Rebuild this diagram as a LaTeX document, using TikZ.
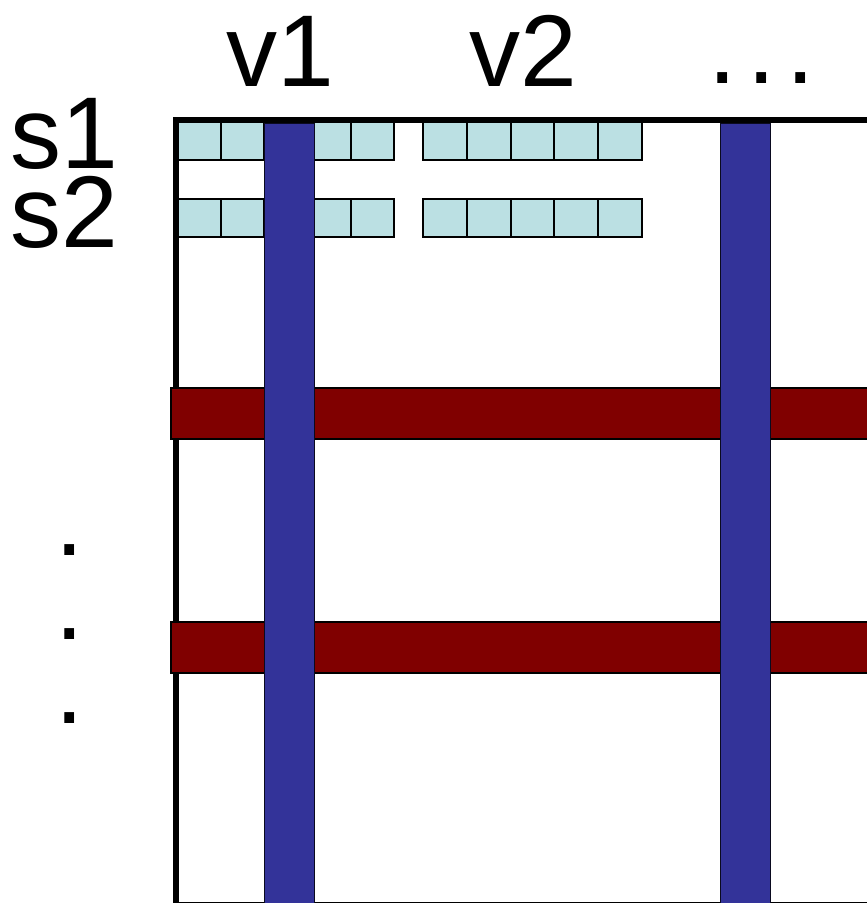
\documentclass[tikz,border=0pt]{standalone}
\usepackage{fontspec}
\setmainfont{Liberation Sans}
\usepackage{tikz}
\definecolor{cellcyan}{HTML}{BBE0E3}
\definecolor{colblue}{HTML}{333399}
\definecolor{rowred}{HTML}{800000}
\begin{document}
\begin{tikzpicture}[x=1pt, y=-1pt,
  cellbox/.style={draw=black, fill=cellcyan, line width=2pt},
  rowbar/.style={draw=black, fill=rowred, line width=2pt},
  colbar/.style={draw=black!80!colblue, fill=colblue, line width=1pt},
  lab/.style={font=\fontsize{102}{110}\selectfont, inner sep=0pt, text height=74pt, text depth=0pt},
  dot/.style={lab, text height=11pt}]
\useasboundingbox (0,0) rectangle (867,903);
% frame of the matrix
\draw[line width=6pt] (867,120) -- (175.5,120) -- (175.5,903);
\draw[line width=1pt] (176,902) -- (867,902);
% cells of s1 and s2
\foreach \y in {122,199} {
  \foreach \i in {0,...,4} \draw[cellbox] (178+43.2*\i,\y) rectangle +(43.2,38);
  \foreach \i in {0,...,4} \draw[cellbox] (423+43.8*\i,\y) rectangle +(43.8,38);
}
% rows and columns
\foreach \y in {388,622} \draw[rowbar] (171,\y) rectangle (868,\y+51);
\foreach \x in {264,720} \draw[colbar] (\x,123) rectangle (\x+50.5,904);
% labels
\node[lab, anchor=base] (v1) at (280,86) {v1};
\node[lab, anchor=base] (v2) at (523,86) {v2};
\node[lab, anchor=base west] (s1) at (10,168) {s1};
\node[lab, anchor=base west] (s2) at (10,247) {s2};
\foreach \x [count=\k] in {723,762,801} \node[dot, anchor=base] (hdot\k) at (\x,83) {.};
\foreach \y [count=\k] in {555,639,723} \node[dot, anchor=base] (vdot\k) at (69.5,\y) {.};
\end{tikzpicture}
\end{document}
